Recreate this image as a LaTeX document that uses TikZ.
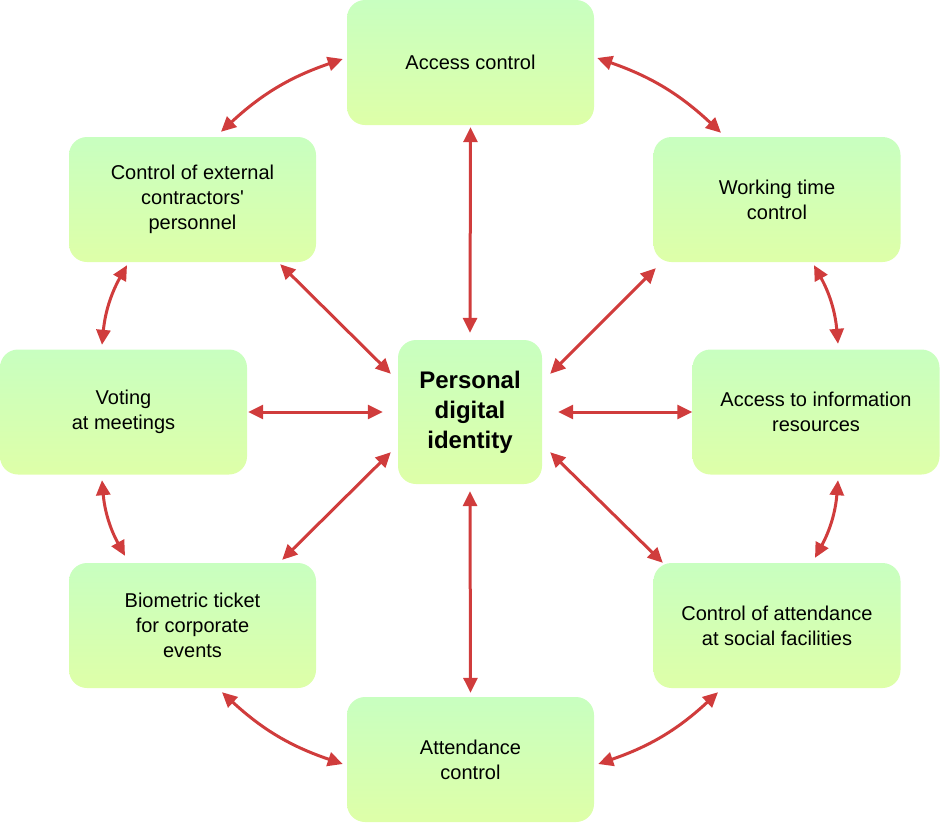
\documentclass[tikz,border=0pt]{standalone}
\usepackage{fontspec}
\setmainfont{Liberation Sans}
\usetikzlibrary{arrows.meta,calc}
\definecolor{boxtop}{RGB}{200,255,192}
\definecolor{boxbot}{RGB}{222,255,168}
\definecolor{linkred}{RGB}{208,60,60}
\tikzset{
	box/.style={rectangle, rounded corners=18pt, top color=boxtop, bottom color=boxbot,
		minimum width=247pt, minimum height=125pt, inner sep=0pt, align=center,
		font=\fontsize{20}{25}\selectfont},
	hub/.style={box, minimum width=144pt, minimum height=144pt,
		font=\fontsize{24}{30}\selectfont\bfseries},
	link/.style={draw=linkred, line width=3pt,
		{Triangle[length=15pt,width=14pt]}-{Triangle[length=15pt,width=14pt]}}
}
\begin{document}
\begin{tikzpicture}[x=1pt,y=-1pt]
			\useasboundingbox (0,0) rectangle (941,823);
			\foreach \n/\x/\y/\t in {acc/470.5/62.5/{Access control},
				ext/192.5/199.5/{Control of external\\contractors\textquotesingle\\personnel},
				work/777/199.5/{Working time\\control},
				vot/123.5/412/{Voting\\at meetings},
				info/816/412/{Access to information\\resources},
				bio/192.5/625.5/{Biometric ticket\\for corporate\\events},
				soc/777/625.5/{Control of attendance\\at social facilities},
				att/470.5/759.5/{Attendance\\control}}{
				\node[box] (\n) at (\x,\y) {\t};
			}
			\node[hub] (cen) at (470,412) {Personal\\digital\\identity};
			\draw[link] ($(cen.north)+(0,-7)$) -- ($(acc.south)+(0,2)$);
			\draw[link] ($(cen.south)+(0,7)$) -- ($(att.north)+(0,-4)$);
			\draw[link] ($(cen.west)+(-15,0)$) -- ($(vot.east)+(1,0)$);
			\draw[link] ($(cen.east)+(16,0)$) -- (info.west);
			\draw[link] ($(cen.north west)+(-7,34)$) -- ($(ext.south east)+(-36,2)$);
			\draw[link] ($(cen.north east)+(8,34)$) -- ($(work.south west)+(2.5,6)$);
			\draw[link] ($(cen.south west)+(-7,-32)$) -- ($(bio.north east)+(-34,-3)$);
			\draw[link] ($(cen.south east)+(8,-32)$) -- ($(soc.north west)+(9.5,0)$);
			\draw[link] ($(ext.north)+(28.5,-5)$) to[bend left=12] ($(acc.west)+(-4,-3.5)$);
			\draw[link] ($(acc.east)+(3,-4.5)$) to[bend left=12] ($(work.north)+(-56,-4)$);
			\draw[link] ($(work.south)+(37,3)$) to[bend left=12] ($(info.north)+(22,-5.5)$);
			\draw[link] ($(info.south)+(22,5.5)$) to[bend left=12] ($(soc.north)+(38,-5)$);
			\draw[link] ($(soc.south)+(-59,4)$) to[bend left=12] ($(att.east)+(4,4.5)$);
			\draw[link] ($(att.west)+(-4,4.5)$) to[bend left=12] ($(bio.south)+(29.5,4)$);
			\draw[link] ($(bio.north)+(-67.5,-7)$) to[bend left=12] ($(vot.south)+(-21.5,5.5)$);
			\draw[link] ($(vot.north)+(-21.5,-4.5)$) to[bend left=12] ($(ext.south)+(-65.5,3)$);
\end{tikzpicture}
\end{document}
